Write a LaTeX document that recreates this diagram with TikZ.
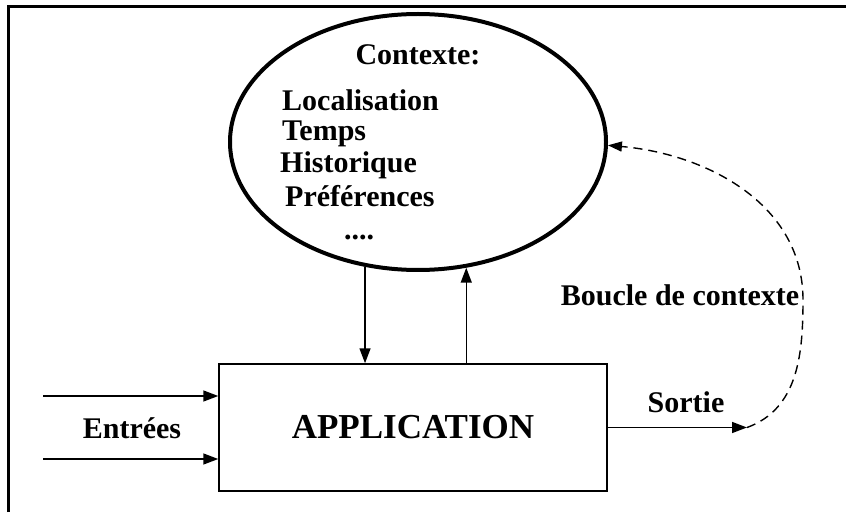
\documentclass[tikz,border=0pt]{standalone}
\usepackage{fontspec}
\setmainfont{Liberation Serif}
\usetikzlibrary{arrows.meta, positioning, shapes.geometric}

\begin{document}
\begin{tikzpicture}[x=1pt, y=1pt,
        ctxshape/.style = {draw, ellipse, line width=4pt, minimum width=376pt, minimum height=256pt, inner sep=0pt},
        appbox/.style = {draw, line width=1.5pt, minimum width=388pt, minimum height=127pt, font=\fontsize{35}{38}\selectfont\bfseries},
        lbl/.style = {inner sep=0pt, font=\fontsize{30}{33}\selectfont\bfseries},
        arr/.style = {line width=1.5pt, -{Triangle[length=15pt, width=11pt]}},
        loopline/.style = {line width=1.4pt, dash pattern=on 9pt off 6pt, -{Triangle[length=14pt, width=10pt]}} ]
      \useasboundingbox (0,0) rectangle (846,512);
      \draw[line width=3pt] (8,0) -- (8,505) -- (846,505);
      % contexte
      \node[ctxshape] (ctx) at (418,370) {};
      \node[lbl, anchor=base] (cttl) at (418,447) {Contexte:};
      \node[lbl, anchor=base west] (loc) at (282,401) {Localisation};
      \node[lbl, anchor=base west] (tps) at (282,371) {Temps};
      \node[lbl, anchor=base west] (hist) at (280,339) {Historique};
      \node[lbl, anchor=base west] (pref) at (285,305) {Préférences};
      \node[lbl, anchor=base] (dots) at (359,272) {....};
      % application
      \node[appbox] (app) at (413,84.5) {APPLICATION};
      \coordinate (in1) at (43,116);
      \coordinate (in2) at (43,53);
      \coordinate (out) at (747,84.5);
      \coordinate (bend) at (803,212);
      \node[lbl] (entr) at (132,84) {Entrées};
      \node[lbl] (sort) at (686,110) {Sortie};
      \node[lbl] (bcl) at (680,217) {Boucle de contexte};
      \draw[arr] (in1) -- (in1 -| app.west);
      \draw[arr] (in2) -- (in2 -| app.west);
      \draw[arr] (app.east) -- (out);
      \draw[arr] (ctx.247) -- (ctx.247 |- app.north);
      \draw[arr] (ctx.291 |- app.north) -- (ctx.291);
      \draw[loopline] (out) to[out=20, in=-90] (bend) to[out=90, in=-5] (ctx.359);
    \end{tikzpicture}
\end{document}
